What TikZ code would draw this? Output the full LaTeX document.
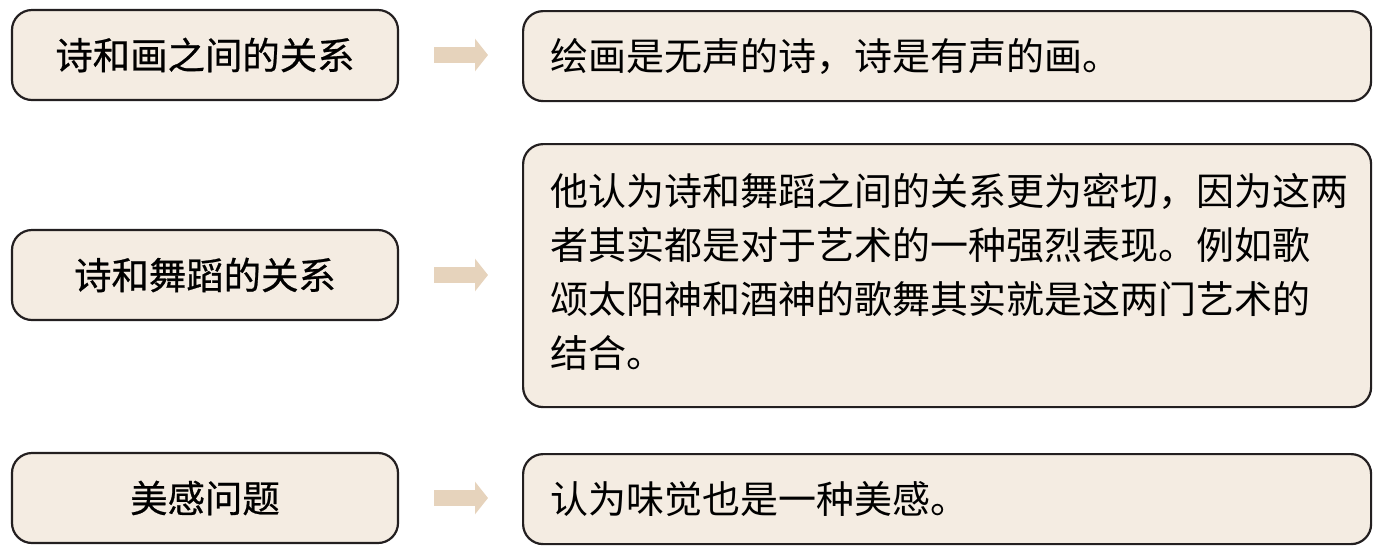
\documentclass[tikz,border=0pt]{standalone}
\usepackage{fontspec}
\usepackage{tikz}
\usetikzlibrary{arrows.meta}
\newfontfamily\cjk{Noto Sans CJK SC}
\newfontfamily\cjkbold[FakeBold=0.6]{Noto Sans CJK SC}
\definecolor{boxfill}{RGB}{244,236,226}
\definecolor{boxline}{RGB}{35,31,32}
\definecolor{arrowtan}{RGB}{230,211,188}

\begin{document}
\begin{tikzpicture}[x=0.5pt, y=-0.5pt,
  topic/.style={draw=boxline, fill=boxfill, line width=1.1pt, rounded corners=10pt,
    minimum width=193pt, minimum height=45pt, inner sep=0pt,
    font=\cjkbold\fontsize{18.7}{22}\selectfont},
  note/.style={draw=boxline, fill=boxfill, line width=1.1pt, rounded corners=10pt,
    anchor=north west, minimum height=45pt, inner xsep=13.5pt, inner ysep=0pt,
    text width=397pt, align=left, font=\cjk\fontsize{19}{27}\selectfont},
  fatarrow/.style={arrowtan, line width=8pt, -{Triangle[length=6.5pt, width=16pt]}}]
  \useasboundingbox (0,0) rectangle (1384,553);
  % left column
  \node[topic] (t1) at (205,55) {诗和画之间的关系};
  \node[topic] (t2) at (205,275) {诗和舞蹈的关系};
  \node[topic] (t3) at (205,498) {美感问题};
  % right column
  \node[note] (n1) at (522,10) {绘画是无声的诗，诗是有声的画。};
  \node[note, minimum height=131.5pt] (n2) at (522,143) {他认为诗和舞蹈之间的关系更为密切，因为这两\\
    者其实都是对于艺术的一种强烈表现。例如歌\\
    颂太阳神和酒神的歌舞其实就是这两门艺术的\\
    结合。\\[-22pt]\mbox{}};
  \node[note] (n3) at (522,453) {认为味觉也是一种美感。};
  % arrows
  \draw[fatarrow] ([xshift=17.5pt]t1.east) -- ([xshift=-17pt]t1.east -| n1.west);
  \draw[fatarrow] ([xshift=17.5pt]t2.east) -- ([xshift=-17pt]t2.east -| n2.west);
  \draw[fatarrow] ([xshift=17.5pt]t3.east) -- ([xshift=-17pt]t3.east -| n3.west);
\end{tikzpicture}
\end{document}
